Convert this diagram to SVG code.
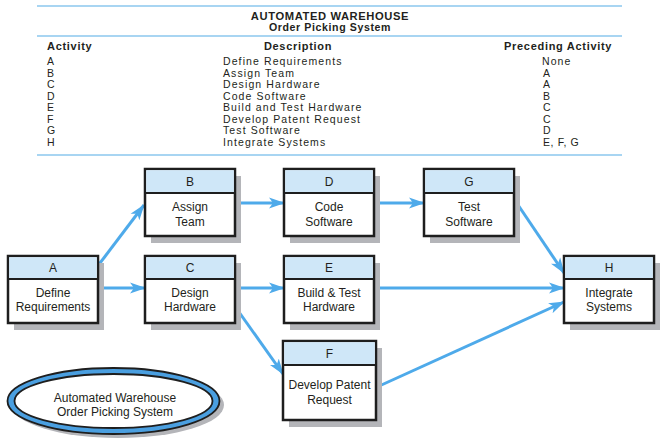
<svg xmlns="http://www.w3.org/2000/svg" width="662" height="439" viewBox="0 0 662 439">
<defs>
<style>
.t{font-family:"Liberation Sans",Arial,sans-serif;fill:#231f20}
.tb{font-family:"Liberation Sans",Arial,sans-serif;font-weight:bold;fill:#231f20}
.row{font-size:10.5px;letter-spacing:1.1px}
.hd{font-size:11px;letter-spacing:0.7px}
.rule{stroke:#a8d5f2;stroke-width:2.2;fill:none}
.sh{fill:#b4b5b9}
.bx{fill:#fff;stroke:#1e1e1e;stroke-width:2.5}
.hdr{fill:#cfe7f8}
.sep{stroke:#1e1e1e;stroke-width:2.2}
.nl{font-family:"Liberation Sans",Arial,sans-serif;font-size:12px;fill:#231f20;text-anchor:middle}
.cn{stroke:#4eaaea;stroke-width:3;fill:none}
</style>
<marker id="ah" markerUnits="userSpaceOnUse" markerWidth="16" markerHeight="12" viewBox="0 0 16 12" refX="15" refY="6" orient="auto">
<path d="M0,0.5 L16,6 L0,11.5 L4,6 Z" fill="#4eaaea"/>
</marker>
</defs>

<g id="table">
<line class="rule" x1="37" y1="6" x2="622" y2="6"/>
<text class="tb" x="330" y="19.5" font-size="11.2" letter-spacing="0.6" text-anchor="middle">AUTOMATED WAREHOUSE</text>
<text class="tb" x="330" y="31" font-size="10.6" letter-spacing="0.6" text-anchor="middle">Order Picking System</text>
<line class="rule" x1="37" y1="36" x2="622" y2="36"/>
<text class="tb hd" x="47" y="50">Activity</text>
<text class="tb hd" x="298" y="50" text-anchor="middle">Description</text>
<text class="tb hd" x="504" y="50">Preceding Activity</text>
<g class="t row">
<text x="47" y="65">A</text><text x="223" y="65">Define Requirements</text><text x="542" y="65">None</text>
<text x="47" y="76.5">B</text><text x="223" y="76.5">Assign Team</text><text x="543" y="76.5">A</text>
<text x="47" y="88">C</text><text x="223" y="88">Design Hardware</text><text x="543" y="88">A</text>
<text x="47" y="99.5">D</text><text x="223" y="99.5">Code Software</text><text x="543" y="99.5">B</text>
<text x="47" y="111">E</text><text x="223" y="111">Build and Test Hardware</text><text x="543" y="111">C</text>
<text x="47" y="122.5">F</text><text x="223" y="122.5">Develop Patent Request</text><text x="543" y="122.5">C</text>
<text x="47" y="134">G</text><text x="223" y="134">Test Software</text><text x="543" y="134">D</text>
<text x="47" y="146">H</text><text x="223" y="146">Integrate Systems</text><text x="543" y="146" letter-spacing="0.6">E, F, G</text>
</g>
<line class="rule" x1="37" y1="155" x2="622" y2="155"/>
</g>

<g id="connectors">
<line class="cn" x1="97" y1="267" x2="144" y2="205" marker-end="url(#ah)"/>
<line class="cn" x1="98" y1="288" x2="145" y2="288" marker-end="url(#ah)"/>
<line class="cn" x1="236" y1="203" x2="284" y2="203" marker-end="url(#ah)"/>
<line class="cn" x1="375" y1="203" x2="424" y2="203" marker-end="url(#ah)"/>
<line class="cn" x1="236" y1="288" x2="284" y2="288" marker-end="url(#ah)"/>
<line class="cn" x1="234" y1="305" x2="283" y2="374" marker-end="url(#ah)"/>
<line class="cn" x1="514" y1="199" x2="564" y2="273" marker-end="url(#ah)"/>
<line class="cn" x1="375" y1="288" x2="564" y2="288" marker-end="url(#ah)"/>
<line class="cn" x1="377" y1="387" x2="564" y2="302" marker-end="url(#ah)"/>
</g>

<g id="node-A">
<rect class="sh" x="14" y="263" width="90" height="67"/>
<rect class="bx" x="8" y="256" width="90" height="67"/>
<rect class="hdr" x="9.2" y="257.2" width="87.6" height="22"/>
<line class="sep" x1="8" y1="279" x2="98" y2="279"/>
<text class="nl" x="53" y="272">A</text>
<text class="nl" x="53" y="297">Define</text>
<text class="nl" x="53" y="311">Requirements</text>
</g>

<g id="node-B">
<rect class="sh" x="151" y="176" width="90" height="67"/>
<rect class="bx" x="145" y="169" width="90" height="67"/>
<rect class="hdr" x="146.2" y="170.2" width="87.6" height="22.6"/>
<line class="sep" x1="145" y1="193" x2="235" y2="193"/>
<text class="nl" x="190" y="186">B</text>
<text class="nl" x="190" y="211">Assign</text>
<text class="nl" x="190" y="226">Team</text>
</g>

<g id="node-C">
<rect class="sh" x="151" y="263" width="90" height="67"/>
<rect class="bx" x="145" y="256" width="90" height="67"/>
<rect class="hdr" x="146.2" y="257.2" width="87.6" height="22"/>
<line class="sep" x1="145" y1="279" x2="235" y2="279"/>
<text class="nl" x="190" y="272">C</text>
<text class="nl" x="190" y="297">Design</text>
<text class="nl" x="190" y="311">Hardware</text>
</g>

<g id="node-D">
<rect class="sh" x="290" y="176" width="90" height="67"/>
<rect class="bx" x="284" y="169" width="90" height="67"/>
<rect class="hdr" x="285.2" y="170.2" width="87.6" height="22.6"/>
<line class="sep" x1="284" y1="193" x2="374" y2="193"/>
<text class="nl" x="329" y="186">D</text>
<text class="nl" x="329" y="211">Code</text>
<text class="nl" x="329" y="226">Software</text>
</g>

<g id="node-E">
<rect class="sh" x="290" y="263" width="90" height="67"/>
<rect class="bx" x="284" y="256" width="90" height="67"/>
<rect class="hdr" x="285.2" y="257.2" width="87.6" height="22"/>
<line class="sep" x1="284" y1="279" x2="374" y2="279"/>
<text class="nl" x="329" y="272">E</text>
<text class="nl" x="329" y="297">Build &amp; Test</text>
<text class="nl" x="329" y="311">Hardware</text>
</g>

<g id="node-G">
<rect class="sh" x="430" y="176" width="90" height="67"/>
<rect class="bx" x="424" y="169" width="90" height="67"/>
<rect class="hdr" x="425.2" y="170.2" width="87.6" height="22.6"/>
<line class="sep" x1="424" y1="193" x2="514" y2="193"/>
<text class="nl" x="469" y="186">G</text>
<text class="nl" x="469" y="211">Test</text>
<text class="nl" x="469" y="226">Software</text>
</g>

<g id="node-H">
<rect class="sh" x="570" y="263" width="90" height="67"/>
<rect class="bx" x="564" y="256" width="90" height="67"/>
<rect class="hdr" x="565.2" y="257.2" width="87.6" height="22"/>
<line class="sep" x1="564" y1="279" x2="654" y2="279"/>
<text class="nl" x="609" y="272">H</text>
<text class="nl" x="609" y="297">Integrate</text>
<text class="nl" x="609" y="311">Systems</text>
</g>

<g id="node-F">
<rect class="sh" x="289" y="348" width="93" height="79"/>
<rect class="bx" x="283" y="341" width="93" height="79"/>
<rect class="hdr" x="284.2" y="342.2" width="90.6" height="22.6"/>
<line class="sep" x1="283" y1="365" x2="376" y2="365"/>
<text class="nl" x="329.5" y="357.5">F</text>
<text class="nl" x="329.5" y="389">Develop Patent</text>
<text class="nl" x="329.5" y="404">Request</text>
</g>

<g id="title-ellipse">
<ellipse cx="118" cy="405" rx="106" ry="33" fill="#b4b5b9"/>
<ellipse cx="113.5" cy="401" rx="106" ry="33" fill="#4a9fe0" stroke="#1e1e1e" stroke-width="1.8"/>
<ellipse cx="113.5" cy="401" rx="99" ry="27" fill="#fff" stroke="#1e1e1e" stroke-width="1.8"/>
<text class="nl" x="115" y="402">Automated Warehouse</text>
<text class="nl" x="115" y="416">Order Picking System</text>
</g>
</svg>
